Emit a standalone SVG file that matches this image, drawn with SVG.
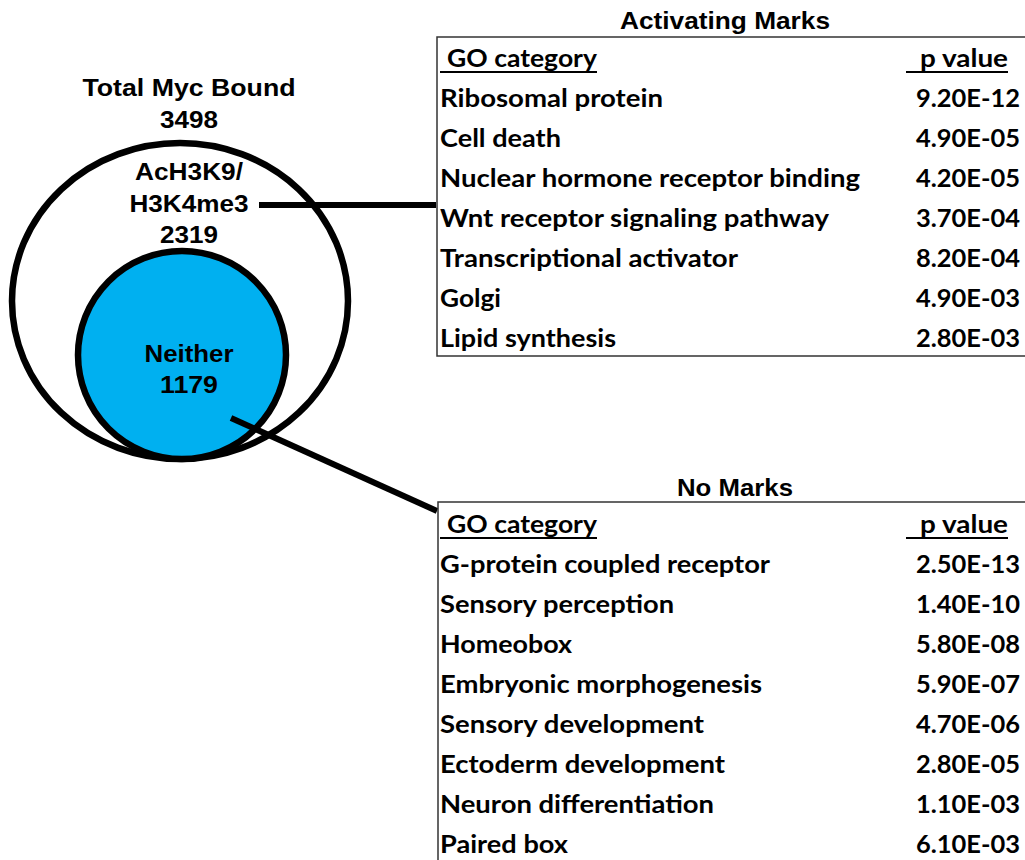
<svg xmlns="http://www.w3.org/2000/svg" width="1025" height="860" viewBox="0 0 1025 860">
<style>
.lbl{font-family:"Liberation Sans",Arial,sans-serif;font-weight:bold;font-size:24px;fill:#000;text-anchor:middle}
.row{font-family:Lato,"Open Sans",sans-serif;font-weight:bold;font-size:25px;fill:#000}
.val{font-family:Lato,"Open Sans",sans-serif;font-weight:bold;font-size:25px;fill:#000;text-anchor:end}
.border{stroke:#333;stroke-width:1.5;fill:none}
.ul{stroke:#000;stroke-width:2}
.conn{stroke:#000;stroke-width:6;fill:none}
</style>
<rect width="1025" height="860" fill="#fff"/>
<g id="total-myc-bound">
<ellipse cx="180" cy="301" rx="168" ry="158" fill="#fff" stroke="#000" stroke-width="6.5"/>
<text class="lbl" x="189" y="96" textLength="213" lengthAdjust="spacingAndGlyphs">Total Myc Bound</text>
<text class="lbl" x="189" y="128" textLength="58" lengthAdjust="spacingAndGlyphs">3498</text>
<text class="lbl" x="189" y="180" textLength="108" lengthAdjust="spacingAndGlyphs">AcH3K9/</text>
<text class="lbl" x="189" y="212" textLength="119" lengthAdjust="spacingAndGlyphs">H3K4me3</text>
<text class="lbl" x="189" y="243" textLength="58" lengthAdjust="spacingAndGlyphs">2319</text>
</g>
<g id="neither">
<circle cx="182" cy="355" r="104" fill="#00B0F0" stroke="#000" stroke-width="6.5"/>
<text class="lbl" x="189" y="362" textLength="89" lengthAdjust="spacingAndGlyphs">Neither</text>
<text class="lbl" x="189" y="393" textLength="58" lengthAdjust="spacingAndGlyphs">1179</text>
</g>
<g id="connectors">
<line class="conn" x1="259" y1="205" x2="436" y2="205"/>
<line class="conn" x1="231" y1="418" x2="437" y2="511"/>
</g>
<g id="activating-marks">
<text class="lbl" x="725" y="29" textLength="210" lengthAdjust="spacingAndGlyphs">Activating Marks</text>
<path class="border" d="M1025,37 H437 V356 H1025"/>
<text class="row" x="447" y="67" textLength="150" lengthAdjust="spacingAndGlyphs">GO category</text>
<line class="ul" x1="440" y1="72" x2="597" y2="72"/>
<text class="row" x="920" y="67" textLength="88" lengthAdjust="spacingAndGlyphs">p value</text>
<line class="ul" x1="906" y1="72" x2="1008" y2="72"/>
<text class="row" x="440" y="107" textLength="223" lengthAdjust="spacingAndGlyphs">Ribosomal protein</text>
<text class="val" x="1020" y="107" textLength="104" lengthAdjust="spacingAndGlyphs">9.20E-12</text>
<text class="row" x="440" y="147" textLength="121" lengthAdjust="spacingAndGlyphs">Cell death</text>
<text class="val" x="1020" y="147" textLength="104" lengthAdjust="spacingAndGlyphs">4.90E-05</text>
<text class="row" x="440" y="187" textLength="420" lengthAdjust="spacingAndGlyphs">Nuclear hormone receptor binding</text>
<text class="val" x="1020" y="187" textLength="104" lengthAdjust="spacingAndGlyphs">4.20E-05</text>
<text class="row" x="440" y="227" textLength="389" lengthAdjust="spacingAndGlyphs">Wnt receptor signaling pathway</text>
<text class="val" x="1020" y="227" textLength="104" lengthAdjust="spacingAndGlyphs">3.70E-04</text>
<text class="row" x="440" y="267" textLength="298" lengthAdjust="spacingAndGlyphs">Transcriptional activator</text>
<text class="val" x="1020" y="267" textLength="104" lengthAdjust="spacingAndGlyphs">8.20E-04</text>
<text class="row" x="440" y="307" textLength="61" lengthAdjust="spacingAndGlyphs">Golgi</text>
<text class="val" x="1020" y="307" textLength="104" lengthAdjust="spacingAndGlyphs">4.90E-03</text>
<text class="row" x="440" y="347" textLength="176" lengthAdjust="spacingAndGlyphs">Lipid synthesis</text>
<text class="val" x="1020" y="347" textLength="104" lengthAdjust="spacingAndGlyphs">2.80E-03</text>
</g>
<g id="no-marks">
<text class="lbl" x="735" y="496" textLength="116" lengthAdjust="spacingAndGlyphs">No Marks</text>
<path class="border" d="M1025,502 H438 V860"/>
<text class="row" x="447" y="533" textLength="150" lengthAdjust="spacingAndGlyphs">GO category</text>
<line class="ul" x1="440" y1="538" x2="597" y2="538"/>
<text class="row" x="920" y="533" textLength="88" lengthAdjust="spacingAndGlyphs">p value</text>
<line class="ul" x1="906" y1="538" x2="1008" y2="538"/>
<text class="row" x="440" y="573" textLength="330" lengthAdjust="spacingAndGlyphs">G-protein coupled receptor</text>
<text class="val" x="1020" y="573" textLength="104" lengthAdjust="spacingAndGlyphs">2.50E-13</text>
<text class="row" x="440" y="613" textLength="234" lengthAdjust="spacingAndGlyphs">Sensory perception</text>
<text class="val" x="1020" y="613" textLength="104" lengthAdjust="spacingAndGlyphs">1.40E-10</text>
<text class="row" x="440" y="653" textLength="132" lengthAdjust="spacingAndGlyphs">Homeobox</text>
<text class="val" x="1020" y="653" textLength="104" lengthAdjust="spacingAndGlyphs">5.80E-08</text>
<text class="row" x="440" y="693" textLength="322" lengthAdjust="spacingAndGlyphs">Embryonic morphogenesis</text>
<text class="val" x="1020" y="693" textLength="104" lengthAdjust="spacingAndGlyphs">5.90E-07</text>
<text class="row" x="440" y="733" textLength="264" lengthAdjust="spacingAndGlyphs">Sensory development</text>
<text class="val" x="1020" y="733" textLength="104" lengthAdjust="spacingAndGlyphs">4.70E-06</text>
<text class="row" x="440" y="773" textLength="285" lengthAdjust="spacingAndGlyphs">Ectoderm development</text>
<text class="val" x="1020" y="773" textLength="104" lengthAdjust="spacingAndGlyphs">2.80E-05</text>
<text class="row" x="440" y="813" textLength="274" lengthAdjust="spacingAndGlyphs">Neuron differentiation</text>
<text class="val" x="1020" y="813" textLength="104" lengthAdjust="spacingAndGlyphs">1.10E-03</text>
<text class="row" x="440" y="853" textLength="128" lengthAdjust="spacingAndGlyphs">Paired box</text>
<text class="val" x="1020" y="853" textLength="104" lengthAdjust="spacingAndGlyphs">6.10E-03</text>
</g>
</svg>
